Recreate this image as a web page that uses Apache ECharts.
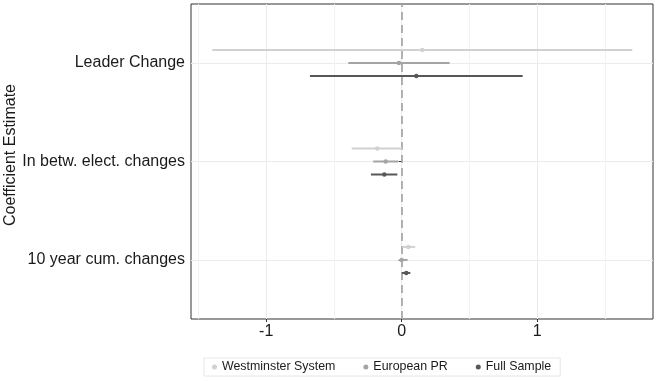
<!DOCTYPE html>
<html>
<head>
<meta charset="utf-8">
<script src="https://cdn.jsdelivr.net/npm/echarts@6/dist/echarts.min.js"></script>
<style>
  html, body { margin: 0; padding: 0; background: #fff; }
  #chart { width: 657px; height: 381px; }
</style>
</head>
<body>
<div id="chart"></div>
<script>
// categories from bottom (1) to top (3)
var categories = ['10 year cum. changes', 'In betw. elect. changes', 'Leader Change']
var catPos = [1, 2, 3]

var xTicks = [-1, 0, 1]
var xMinorGrid = [-1.5, -0.5, 0.5, 1.5]

// estimate, lower, upper per category (bottom to top)
var westEst = [0.049, -0.18, 0.152]
var westLo = [0.004, -0.369, -1.398]
var westHi = [0.1, 0.004, 1.702]

var euroEst = [0.0, -0.118, -0.02]
var euroLo = [-0.018, -0.21, -0.394]
var euroHi = [0.044, -0.025, 0.354]

var fullEst = [0.034, -0.128, 0.108]
var fullLo = [0.002, -0.227, -0.677]
var fullHi = [0.064, -0.032, 0.893]

var seriesNames = ['Westminster System', 'European PR', 'Full Sample']
var seriesColors = ['#d1d1d1', '#a4a4a4', '#575757']
var seriesOffsets = [-13, 0, 13]

function buildData(est, lo, hi) {
  var out = []
  for (var i = 0; i < catPos.length; i++) {
    out.push([catPos[i], est[i], lo[i], hi[i]])
  }
  return out
}

function makeRenderer(offsetPx) {
  return function(params, api) {
    var y = api.value(0)
    var p = api.coord([api.value(1), y])
    var lo = api.coord([api.value(2), y])
    var hi = api.coord([api.value(3), y])
    var color = api.visual('color')
    return {
      type: 'group',
      children: [
        {
          type: 'line',
          shape: { x1: lo[0], y1: lo[1] + offsetPx, x2: hi[0], y2: hi[1] + offsetPx },
          style: { stroke: color, lineWidth: 2 }
        },
        {
          type: 'circle',
          shape: { cx: p[0], cy: p[1] + offsetPx, r: 2.2 },
          style: { fill: color }
        }
      ]
    }
  }
}

var allData = [
  buildData(westEst, westLo, westHi),
  buildData(euroEst, euroLo, euroHi),
  buildData(fullEst, fullLo, fullHi)
]

var series = []
for (var s = 0; s < seriesNames.length; s++) {
  series.push({
    name: seriesNames[s],
    type: 'custom',
    renderItem: makeRenderer(seriesOffsets[s]),
    encode: { x: [1, 2, 3], y: 0 },
    itemStyle: { color: seriesColors[s] },
    data: allData[s],
    z: 3
  })
}
series[0].markLine = {
  silent: true,
  symbol: 'none',
  label: { show: false },
  lineStyle: { color: '#a0a0a0', type: [8, 5], width: 1.6 },
  data: [{ xAxis: 0 }],
  z: 2
}

var chart = echarts.init(document.getElementById('chart'))
chart.setOption({
  animation: false,
  textStyle: { fontFamily: 'Liberation Sans, Arial, sans-serif' },
  grid: {
    left: 191, top: 4, width: 462, height: 315,
    show: true, borderColor: '#333', borderWidth: 1,
    outerBoundsMode: 'none'
  },
  legend: {
    data: seriesNames,
    left: 204,
    top: 358,
    icon: 'circle',
    itemWidth: 5,
    itemHeight: 5,
    itemGap: 28,
    padding: [3, 9, 3, 8],
    borderColor: '#e6e6e6',
    borderWidth: 1,
    textStyle: { fontSize: 12.4, color: '#1a1a1a', fontFamily: 'Liberation Sans, Arial, sans-serif' }
  },
  xAxis: [
    {
      type: 'value',
      min: -1.555,
      max: 1.855,
      axisLine: { show: false },
      axisTick: { show: true, customValues: xTicks, length: 3, lineStyle: { color: '#333' } },
      axisLabel: { customValues: xTicks, fontSize: 16, color: '#1a1a1a', margin: 5 },
      splitLine: { show: true, lineStyle: { color: '#ebebeb', width: 1 } }
    },
    {
      type: 'value',
      position: 'bottom',
      min: -1.555,
      max: 1.855,
      axisLine: { show: false },
      axisTick: { show: false, customValues: xMinorGrid },
      axisLabel: { show: false, customValues: xMinorGrid },
      splitLine: { show: true, lineStyle: { color: '#f3f3f3', width: 1 } }
    }
  ],
  yAxis: {
    type: 'value',
    min: 0.4,
    max: 3.6,
    axisLine: { show: false },
    axisTick: { show: true, customValues: catPos, length: 3, lineStyle: { color: '#333' } },
    axisLabel: {
      customValues: catPos,
      fontSize: 16,
      color: '#1a1a1a',
      margin: 6,
      formatter: function(v) { return categories[Math.round(v) - 1] }
    },
    splitLine: { show: true, lineStyle: { color: '#ebebeb', width: 1 } }
  },
  graphic: [{
    type: 'text',
    x: 11,
    y: 155,
    rotation: Math.PI / 2,
    style: {
      text: 'Coefficient Estimate',
      fontSize: 16,
      fill: '#1a1a1a',
      fontFamily: 'Liberation Sans, Arial, sans-serif',
      align: 'center',
      verticalAlign: 'middle'
    }
  }],
  series: series
})
</script>
</body>
</html>
